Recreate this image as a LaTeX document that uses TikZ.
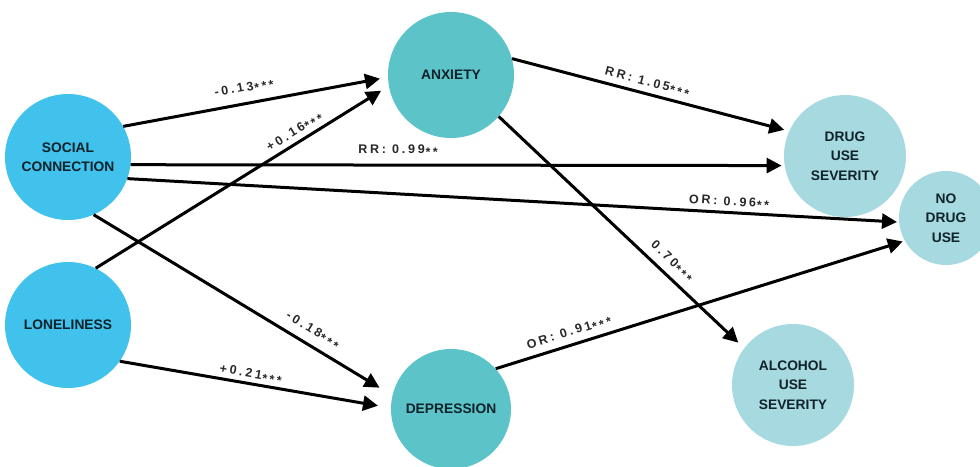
\documentclass[tikz,border=0pt]{standalone}
\usepackage{fontspec}
\setmainfont{Liberation Sans}
\newfontfamily\lblfont[LetterSpace=22]{Liberation Sans}
\usetikzlibrary{arrows.meta}
\definecolor{cblue}{RGB}{64,194,236}
\definecolor{cteal}{RGB}{92,196,200}
\definecolor{clight}{RGB}{166,218,224}
\definecolor{ink}{RGB}{16,34,42}
\definecolor{lblc}{RGB}{40,40,40}
\newcommand\sst{\kern0.8pt\raisebox{-2.6pt}{\fontsize{12.5}{12.5}\selectfont *}\kern1.6pt}
\begin{document}
\begin{tikzpicture}[x=1pt,y=-1pt,
  circ/.style={circle, inner sep=0pt, align=center, font=\fontsize{13.8}{19.5}\selectfont\bfseries, text=ink},
  arr/.style={line width=3pt, -{Triangle[length=15pt,width=15pt]}},
  lbl/.style={sloped, anchor=south, inner sep=0pt, font=\lblfont\fontsize{12.5}{12.5}\selectfont\bfseries, text=lblc}]
\useasboundingbox (0,0) rectangle (980,466);
\clip (0,0) rectangle (980,466);
\node[circ, fill=cblue, minimum size=126pt] (sc) at (68,157) {SOCIAL\\CONNECTION};
\node[circ, fill=cblue, minimum size=126pt] (lon) at (68,325) {LONELINESS};
\node[circ, fill=cteal, minimum size=126pt] (anx) at (451,75) {ANXIETY};
\node[circ, fill=cteal, minimum size=120pt] (dep) at (451,409) {DEPRESSION};
\node[circ, fill=clight, minimum size=122pt] (drug) at (845,156) {DRUG\\USE\\SEVERITY};
\node[circ, fill=clight, minimum size=122pt] (alc) at (793,385) {ALCOHOL\\USE\\SEVERITY};
\node[circ, fill=clight, minimum size=94pt] (nod) at (946,218) {NO\\DRUG\\USE};
\draw[arr, shorten >=8pt] (sc.29) -- node[lbl, pos=0.47, yshift=8pt] (l1) {-0.13\sst\sst\sst} (anx.182);
\draw[arr, shorten >=9pt] (lon.64) -- node[lbl, pos=0.70, yshift=3pt] (l2) {+0.16\sst\sst\sst} (anx.190);
\draw[arr, shorten >=3pt] (sc.-7) -- node[lbl, pos=0.41, yshift=7pt] (l3) {RR: 0.99\sst\sst} (drug.189);
\draw[arr, shorten >=2pt] (sc.-20) -- node[lbl, pos=0.78, yshift=3pt] (l4) {OR: 0.96\sst\sst} (nod.185);
\draw[arr, shorten >=15pt] (sc.-66) -- node[lbl, pos=0.71, yshift=7pt] (l5) {-0.18\sst\sst\sst} (dep.167);
\draw[arr, shorten >=13pt] (lon.-35) -- node[lbl, pos=0.48, yshift=2pt] (l6) {+0.21\sst\sst\sst} (dep.179);
\draw[arr, shorten >=5pt] (anx.15) -- node[lbl, pos=0.48, yshift=4pt] (l7) {RR: 1.05\sst\sst\sst} (drug.156);
\draw[arr, shorten >=8pt] (anx.-41) -- node[lbl, pos=0.67, yshift=6pt] (l8) {0.70\sst\sst\sst} (alc.143);
\draw[arr, shorten >=2pt] (dep.42) -- node[lbl, pos=0.19, yshift=5pt] (l9) {OR: 0.91\sst\sst\sst} (nod.209);
\end{tikzpicture}
\end{document}
